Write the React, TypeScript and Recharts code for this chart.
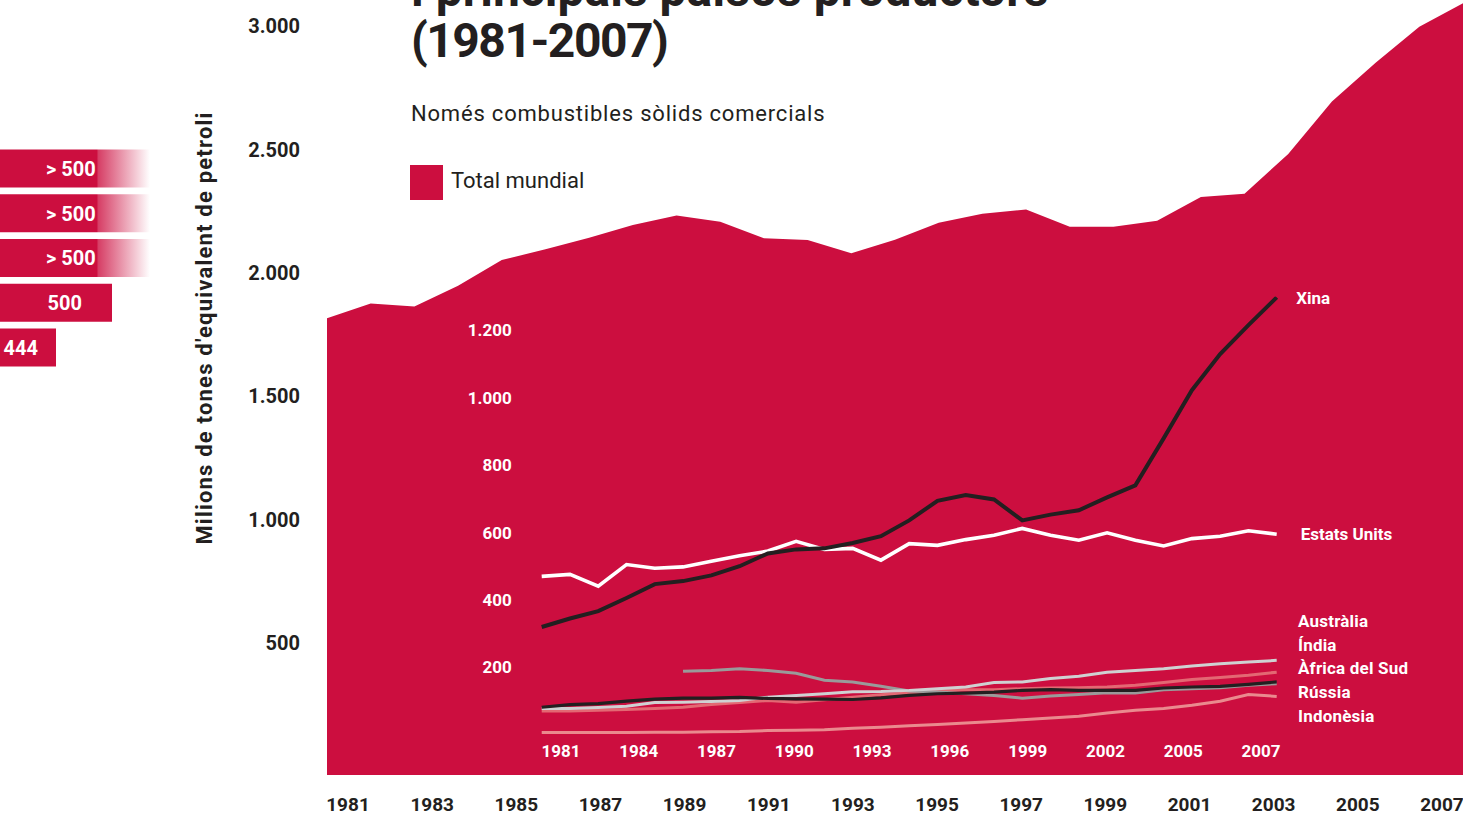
import React from "react"
import {
  AreaChart,
  Area,
  LineChart,
  Line,
  BarChart,
  Bar,
  Cell,
  LabelList,
  XAxis,
  YAxis,
} from "recharts"

const RED = "#cc0e3f"
const INK = "#231f20"
const FONT = "Roboto, 'DejaVu Sans', sans-serif"

// years on both charts
const years = [
  1981, 1982, 1983, 1984, 1985, 1986, 1987, 1988, 1989, 1990, 1991, 1992, 1993, 1994,
  1995, 1996, 1997, 1998, 1999, 2000, 2001, 2002, 2003, 2004, 2005, 2006, 2007,
]

// Total mundial (Mtep)
const totalMundial = [
  1817, 1877, 1864, 1949, 2053, 2096, 2143, 2195, 2233, 2208, 2141, 2134, 2080, 2135,
  2204, 2240, 2258, 2188, 2188, 2212, 2308, 2322, 2483, 2695, 2853, 2999, 3094,
]

// principals països productors
const xina = [
  320, 345, 367, 406, 447, 456, 473, 500, 538, 550, 553, 569, 589, 636,
  694, 711, 698, 636, 653, 666, 704, 740, 879, 1022, 1129, 1215, 1297,
]
const estatsUnits = [
  470, 476, 441, 505, 494, 498, 515, 531, 545, 574, 550, 553, 518, 567,
  562, 579, 592, 612, 592, 577, 599, 577, 560, 582, 589, 605, 595,
]
const australia = [
  78, 78, 81, 85, 96, 97, 99, 102, 112, 117, 122, 128, 129, 132,
  137, 142, 155, 157, 167, 174, 186, 191, 196, 204, 211, 216, 221,
]
const india = [
  71, 71, 73, 75, 78, 82, 90, 96, 102, 97, 104, 112, 119, 124,
  130, 134, 134, 137, 139, 140, 142, 147, 155, 164, 170, 177, 186,
]
const africaSud = [
  82, 90, 93, 100, 106, 109, 109, 111, 108, 107, 106, 105, 110, 117,
  122, 124, 127, 132, 134, 132, 132, 132, 139, 142, 144, 150, 157,
]
const russia = [
  null, null, null, null, null, 189, 191, 196, 191, 183, 162, 157, 144, 130,
  127, 122, 117, 109, 115, 120, 125, 124, 134, 137, 140, 147, 152,
]
const indonesia = [
  7, 7, 7, 7, 8, 8, 9, 10, 13, 14, 15, 20, 23, 27,
  31, 35, 40, 45, 50, 55, 65, 73, 78, 88, 100, 120, 114,
]

// tick labels
const outerYTicks = [500, 1000, 1500, 2000, 2500, 3000]
const outerXTicks = [1981, 1983, 1985, 1987, 1989, 1991, 1993, 1995, 1997, 1999, 2001, 2003, 2005, 2007]
const innerYTicks = [200, 400, 600, 800, 1000, 1200]
const innerXLabels = ["1981", "1984", "1987", "1990", "1993", "1996", "1999", "2002", "2005", "2007"]
const groupLabels = ["Austràlia", "Índia", "Àfrica del Sud", "Rússia", "Indonèsia"]

// cropped bars on the left edge
const stubLabels = ["> 500", "> 500", "> 500", "500", "444"]
const stubValues = [538, 538, 538, 500, 444]

const rows = years.map((year, i) => ({
  year,
  total: totalMundial[i],
  xina: xina[i],
  eu: estatsUnits[i],
  australia: australia[i],
  india: india[i],
  africa: africaSud[i],
  russia: russia[i],
  indonesia: indonesia[i],
}))

const stubRows = stubLabels.map((label, i) => ({ label, len: stubValues[i] }))

const fmt = (v: number) => String(v).replace(/\B(?=(\d{3})+(?!\d))/g, ".")

function endLabel(text: string, dx: number) {
  return (props: any) => {
    const { x, y, index } = props
    if (index !== years.length - 1) return null
    return (
      <text x={x + dx} y={y} dy="0.36em" fill="#fff" fontSize={17} fontWeight={700} fontFamily={FONT}>
        {text}
      </text>
    )
  }
}

function StubLabel(props: any) {
  const { x, y, width, height, value } = props
  const capped = String(value).startsWith(">")
  // capped bars: text ends where the solid part stops
  const end = capped ? x + width * 0.645 - 1 : Math.max(x + width - 30, x + 38)
  return (
    <text x={end} y={y + height / 2} dy="0.36em" textAnchor="end" fill="#fff" fontSize={20} fontWeight={700} fontFamily={FONT}>
      {value}
    </text>
  )
}

export default function App() {
  return (
    <div style={{ position: "absolute", left: 0, top: 0, width: 1463, height: 817, background: "#fff", overflow: "hidden", fontFamily: FONT, color: INK }}>
      {/* world total */}
      <div style={{ position: "absolute", left: 0, top: 0 }}>
        <AreaChart width={1463} height={817} data={rows} margin={{ top: 0, right: 0, bottom: 0, left: 0 }}>
          <XAxis xAxisId="yr" dataKey="year" type="number" domain={[1981, 2007]} hide />
          <XAxis
            xAxisId="lbl"
            dataKey="year"
            type="number"
            domain={[1980.5, 2007.5]}
            allowDataOverflow
            ticks={outerXTicks}
            interval={0}
            height={42}
            axisLine={false}
            tickLine={false}
            tickSize={0}
            tickMargin={23}
            tick={{ fill: INK, fontSize: 19, fontWeight: 700, fontFamily: FONT }}
          />
          <YAxis
            type="number"
            domain={[-35, 3107]}
            allowDataOverflow
            ticks={outerYTicks}
            interval={0}
            width={327}
            axisLine={false}
            tickLine={false}
            tickSize={0}
            tickMargin={27}
            tickFormatter={fmt}
            tick={{ fill: INK, fontSize: 20, fontWeight: 700, fontFamily: FONT }}
          />
          <Area
            xAxisId="yr"
            type="linear"
            dataKey="total"
            stroke="none"
            fill={RED}
            fillOpacity={1}
            baseValue="dataMin"
            isAnimationActive={false}
          />
        </AreaChart>
      </div>

      {/* producers */}
      <div style={{ position: "absolute", left: 0, top: 0 }}>
        <LineChart width={1463} height={817} data={rows} margin={{ top: 296.4, right: 186.3, bottom: 0, left: 0 }}>
          <XAxis xAxisId="yr" dataKey="year" type="number" domain={[1981, 2007]} hide />
          <XAxis
            xAxisId="lbl"
            dataKey="year"
            type="number"
            domain={[-0.248, 9.202]}
            allowDataOverflow
            ticks={innerXLabels.map((_, i) => i)}
            interval={0}
            height={82.1}
            axisLine={false}
            tickLine={false}
            tickSize={0}
            tickMargin={10}
            tickFormatter={(i: number) => innerXLabels[i] ?? ""}
            tick={{ fill: "#fff", fontSize: 17, fontWeight: 700, fontFamily: FONT }}
          />
          <YAxis
            type="number"
            domain={[0, 1300]}
            allowDataOverflow
            ticks={innerYTicks}
            interval={0}
            width={541.7}
            axisLine={false}
            tickLine={false}
            tickSize={0}
            tickMargin={30}
            tickFormatter={fmt}
            tick={{ fill: "#fff", fontSize: 17, fontWeight: 700, fontFamily: FONT }}
          />
          <Line xAxisId="yr" type="linear" dataKey="indonesia" stroke="#ea8a8e" strokeWidth={3} dot={false} isAnimationActive={false} />
          <Line xAxisId="yr" type="linear" dataKey="india" stroke="#e36873" strokeWidth={3} dot={false} isAnimationActive={false} />
          <Line xAxisId="yr" type="linear" dataKey="russia" stroke="#9a9a9a" strokeWidth={3} dot={false} isAnimationActive={false} />
          <Line xAxisId="yr" type="linear" dataKey="australia" stroke="#cfd1d2" strokeWidth={3} dot={false} isAnimationActive={false} />
          <Line xAxisId="yr" type="linear" dataKey="africa" stroke={INK} strokeWidth={3.2} dot={false} isAnimationActive={false} />
          <Line xAxisId="yr" type="linear" dataKey="eu" stroke="#fff" strokeWidth={3.6} dot={false} isAnimationActive={false} label={endLabel("Estats Units", 24)} />
          <Line xAxisId="yr" type="linear" dataKey="xina" stroke={INK} strokeWidth={4} dot={false} isAnimationActive={false} label={endLabel("Xina", 19.5)} />
        </LineChart>
      </div>

      {/* labels for the lower group */}
      <div style={{ position: "absolute", left: 1298, top: 610, color: "#fff", fontSize: 17, fontWeight: 700, lineHeight: "23.7px", letterSpacing: 0.2 }}>
        {groupLabels.map((l) => (
          <div key={l}>{l}</div>
        ))}
      </div>

      {/* cropped bars at the left */}
      <div style={{ position: "absolute", left: 0, top: 146.4 }}>
        <BarChart layout="vertical" width={162} height={223.75} data={stubRows} margin={{ top: 0, right: 0, bottom: 0, left: 0 }} barCategoryGap={3.6}>
          <defs>
            <linearGradient id="stubFade" x1="0" y1="0" x2="1" y2="0">
              <stop offset="0%" stopColor={RED} stopOpacity={1} />
              <stop offset="64.5%" stopColor={RED} stopOpacity={1} />
              <stop offset="65.5%" stopColor={RED} stopOpacity={0.8} />
              <stop offset="100%" stopColor={RED} stopOpacity={0} />
            </linearGradient>
          </defs>
          <XAxis type="number" domain={[388, 550]} allowDataOverflow hide />
          <YAxis type="category" dataKey="label" hide />
          <Bar dataKey="len" isAnimationActive={false}>
            {stubRows.map((r, i) => (
              <Cell key={i} fill={r.label.startsWith(">") ? "url(#stubFade)" : RED} />
            ))}
            <LabelList dataKey="label" content={<StubLabel />} />
          </Bar>
        </BarChart>
      </div>

      {/* y-axis title */}
      <div
        style={{
          position: "absolute",
          left: 204,
          top: 328,
          transform: "translate(-50%, -50%) rotate(-90deg)",
          whiteSpace: "nowrap",
          fontSize: 22,
          fontWeight: 700,
          letterSpacing: 1.2,
          color: INK,
        }}
      >
        Milions de tones d'equivalent de petroli
      </div>

      {/* title, first line cut by the top edge */}
      <div style={{ position: "absolute", left: 411, top: -33, fontSize: 48, fontWeight: 700, lineHeight: "45px", whiteSpace: "nowrap", color: INK }}>
        i principals països productors
      </div>
      <div style={{ position: "absolute", left: 411, top: 18.1, fontSize: 48, fontWeight: 700, lineHeight: "45px", letterSpacing: -1.5, whiteSpace: "nowrap", color: INK }}>
        (1981-2007)
      </div>

      <div style={{ position: "absolute", left: 411, top: 101, fontSize: 22, lineHeight: "26px", letterSpacing: 0.8, whiteSpace: "nowrap", color: INK }}>
        Només combustibles sòlids comercials
      </div>

      {/* legend */}
      <div style={{ position: "absolute", left: 410, top: 165, width: 33, height: 35, background: RED }} />
      <div style={{ position: "absolute", left: 451, top: 168, fontSize: 22, lineHeight: "26px", whiteSpace: "nowrap", color: INK }}>
        Total mundial
      </div>
    </div>
  )
}
